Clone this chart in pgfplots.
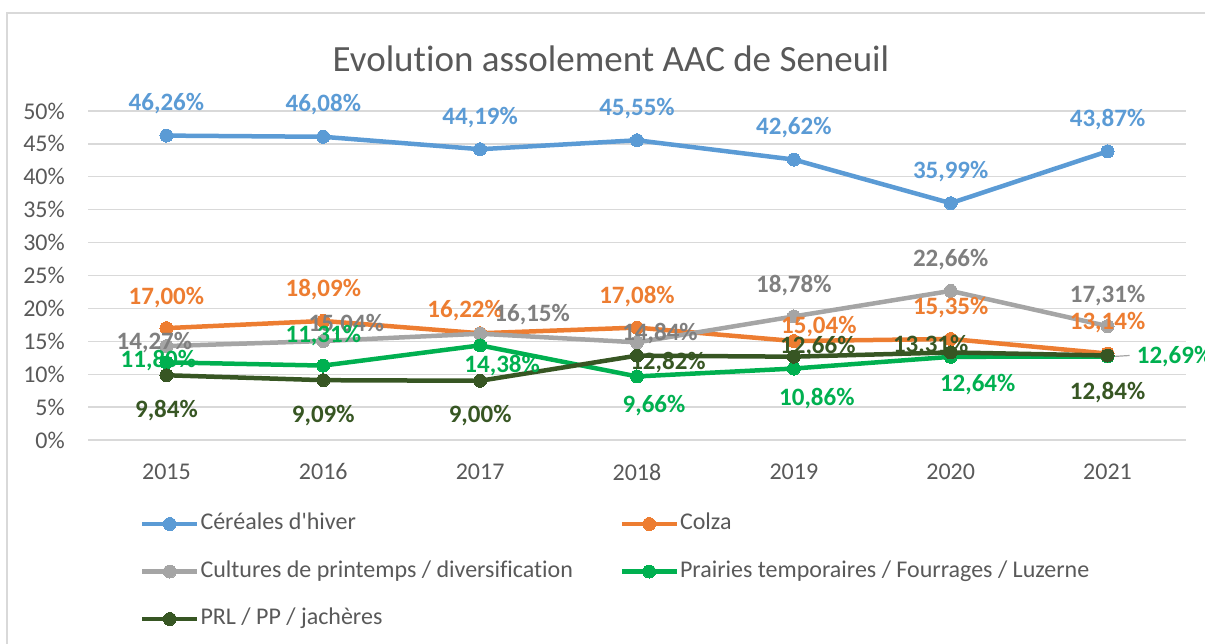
\documentclass[border=0pt]{standalone}
\usepackage{pgfplots}
\pgfplotsset{compat=1.18}
\usepackage{pgfplotstable}
\usepackage{fontspec}
\setmainfont{Carlito}[Ligatures=NoCommon]
\definecolor{cblue}{HTML}{5B9BD5}
\definecolor{corange}{HTML}{ED7D31}
\definecolor{cgrey}{HTML}{A5A5A5}
\definecolor{cgreylab}{HTML}{7F7F7F}
\definecolor{cgreen}{HTML}{00B050}
\definecolor{cdark}{HTML}{375623}
\definecolor{ctext}{HTML}{595959}
\definecolor{gridc}{HTML}{D9D9D9}

\pgfplotstableread{
x y dx dy
2015 46.26 0 32
2016 46.08 0 32
2017 44.19 0 32
2018 45.55 0 32
2019 42.62 0 32
2020 35.99 0 32
2021 43.87 0 32
}\tblue
\pgfplotstableread{
x y dx dy
2015 17.00 0 31
2016 18.09 0 31
2017 16.22 -15 23
2018 17.08 0 31
2019 15.04 25 14
2020 15.35 0 31
2021 13.14 0 31
}\torange
\pgfplotstableread{
x y dx dy
2015 14.27 -12 4
2016 15.04 23 16
2017 16.15 52 19
2018 14.84 23 9
2019 18.78 0 31
2020 22.66 0 31
2021 17.31 0 31
}\tgrey
\pgfplotstableread{
x y dx dy
2015 11.80 -8 2
2016 11.31 0 30
2017 14.38 22 -20
2018 9.66 17 -29
2019 10.86 23 -30
2020 12.64 27 -28
2021 12.69 67 0
}\tgreen
\pgfplotstableread{
x y dx dy
2015 9.84 0 -35
2016 9.09 0 -35
2017 9.00 0 -35
2018 12.82 31 -7
2019 12.66 24 10
2020 13.31 -20 7
2021 12.84 0 -37
}\tdark

\pgfplotsset{
  serie/.style={line width=4.5pt, mark=*, mark size=6.5pt, color=#1, mark options={solid, fill=#1, draw=#1, line width=0pt}},
  labs/.style={draw=none, mark=none, forget plot,
    point meta=\thisrow{y},
    visualization depends on={\thisrow{dx} \as \dx},
    visualization depends on={\thisrow{dy} \as \dy},
    nodes near coords={\pgfmathprintnumber[fixed,fixed zerofill,precision=2,use comma]{\pgfplotspointmeta}\%},
    nodes near coords style={anchor=center, inner sep=0pt, xshift=\dx pt, yshift=\dy pt,
      font=\fontsize{25}{25}\selectfont\bfseries, text=#1}},
}

\begin{document}
\begin{tikzpicture}
\useasboundingbox (0,0) rectangle (1205pt,644pt);
\draw[color=gridc, line width=1.5pt] (7pt,-10pt) -- (7pt,631pt) -- (1220pt,631pt);
\node[font=\fontsize{37}{37}\selectfont, text=ctext, anchor=base] at (611pt,572pt) {Evolution assolement AAC de Seneuil};
\begin{axis}[
  at={(88pt,204pt)}, anchor=south west,
  scale only axis, width=1098pt, height=329pt,
  xmin=2014.5, xmax=2021.5, ymin=0, ymax=50,
  xtick={2015,2016,2017,2018,2019,2020,2021},
  xticklabels={2015,2016,2017,2018,2019,2020,2021},
  ytick={0,5,...,50},
  yticklabel={\pgfmathprintnumber{\tick}\%},
  /pgf/number format/assume math mode=true,
  ymajorgrids, grid style={color=gridc, line width=1.3pt},
  axis line style={draw=none},
  major tick length=0pt,
  tick label style={font=\fontsize{24}{24}\selectfont, text=ctext, inner sep=0pt},
  yticklabel style={anchor=east, xshift=-23pt},
  xticklabel style={anchor=north, yshift=-23.5pt},
  clip=false,
  legend columns=2,
  legend cell align=left,
  legend style={at={(axis description cs:0.04736,-0.2205)}, anchor=north west,
    draw=none, fill=none, inner sep=0pt, outer sep=0pt,
    font=\fontsize{24}{24}\selectfont, text=ctext,
    nodes={inner sep=0pt, text height=17pt, text depth=6pt},
    column sep=1pt, row sep=24.5pt},
  legend image code/.code={\draw[mark repeat=2,mark phase=2,#1] plot coordinates {(0pt,0pt) (27.5pt,0pt) (55pt,0pt)};},
]
\addplot[serie=cblue] table[x=x,y=y] {\tblue};
\addlegendentry{\makebox[418pt][l]{Céréales d\textquotesingle hiver}}
\addplot[serie=corange] table[x=x,y=y] {\torange};
\addlegendentry{Colza}
\addplot[serie=cgrey] table[x=x,y=y] {\tgrey};
\addlegendentry{\makebox[418pt][l]{Cultures de printemps / diversification}}
\addplot[serie=cgreen] table[x=x,y=y] {\tgreen};
\addlegendentry{Prairies temporaires / Fourrages / Luzerne}
\addplot[serie=cdark] table[x=x,y=y] {\tdark};
\addlegendentry{PRL / PP / jachères}
\draw[color=cgrey, line width=1.2pt] (axis cs:2021,12.69) ++(6pt,0pt) -- ++(16pt,1pt);
\addplot[labs=cblue] table[x=x,y=y] {\tblue};
\addplot[labs=corange] table[x=x,y=y] {\torange};
\addplot[labs=cgreylab] table[x=x,y=y] {\tgrey};
\addplot[labs=cgreen] table[x=x,y=y] {\tgreen};
\addplot[labs=cdark] table[x=x,y=y] {\tdark};
\end{axis}
\end{tikzpicture}
\end{document}
